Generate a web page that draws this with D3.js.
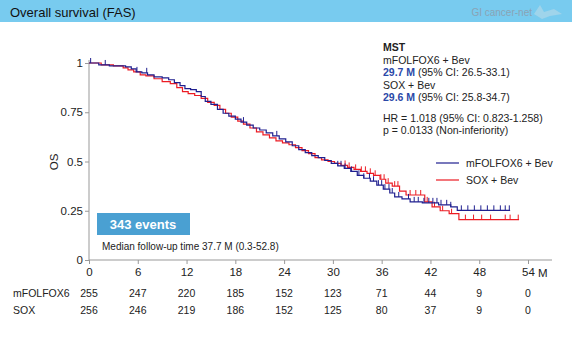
<!DOCTYPE html>
<html>
<head>
<meta charset="utf-8">
<script src="https://cdn.jsdelivr.net/npm/d3@7"></script>
<style>
  body { margin: 0; background: #fff; }
  svg { display: block; font-family: "Liberation Sans", Arial, sans-serif; }
</style>
</head>
<body>
<div class="chart"></div>
<script>
// data
const xTicks = [0, 6, 12, 18, 24, 30, 36, 42, 48, 54];
const yTicks = [0, 0.25, 0.5, 0.75, 1];
const riskFolfox = [255, 247, 220, 185, 152, 123, 71, 44, 9, 0];
const riskSox = [256, 246, 219, 186, 152, 125, 80, 37, 9, 0];

// step points [month, survival]
const folfoxSteps = [
  [0, 1], [1.2, 0.99], [2.5, 0.985], [4.5, 0.98], [5.2, 0.97], [5.8, 0.955], [6.5, 0.95],
  [7.2, 0.94], [8.0, 0.93], [9.0, 0.925], [9.8, 0.915], [10.5, 0.9], [11.2, 0.885],
  [11.8, 0.87], [12.5, 0.865], [13.2, 0.855], [13.8, 0.83], [14.3, 0.805], [15.0, 0.79],
  [15.8, 0.765], [16.5, 0.745], [17.2, 0.73], [18.0, 0.715], [18.7, 0.70], [19.4, 0.685],
  [20.2, 0.67], [21.0, 0.66], [21.8, 0.645], [22.6, 0.63], [23.4, 0.615], [24.2, 0.60],
  [25.0, 0.58], [25.8, 0.56], [26.6, 0.545], [27.4, 0.53], [28.2, 0.52], [29.0, 0.505],
  [29.8, 0.49], [30.6, 0.478], [31.4, 0.465], [32.2, 0.45], [33.0, 0.43], [33.8, 0.415],
  [34.6, 0.40], [35.4, 0.38], [36.2, 0.36], [37.0, 0.34], [37.6, 0.32], [38.5, 0.31],
  [39.5, 0.295], [41.0, 0.29], [43.0, 0.28], [44.5, 0.27], [45.3, 0.252], [51.8, 0.252]
];
const soxSteps = [
  [0, 1], [1.5, 0.99], [3.0, 0.985], [4.2, 0.975], [4.8, 0.965], [5.5, 0.955], [6.3, 0.94],
  [7.0, 0.935], [8.0, 0.92], [9.0, 0.905], [10.0, 0.895], [10.8, 0.875], [11.5, 0.855],
  [12.2, 0.845], [13.0, 0.835], [13.8, 0.82], [14.6, 0.80], [15.4, 0.785], [16.1, 0.765],
  [16.8, 0.745], [17.5, 0.725], [18.3, 0.705], [19.0, 0.69], [19.8, 0.67], [20.6, 0.65],
  [21.4, 0.635], [22.2, 0.62], [23.0, 0.605], [23.8, 0.595], [24.6, 0.585], [25.4, 0.57],
  [26.2, 0.555], [27.0, 0.54], [27.8, 0.52], [28.6, 0.508], [29.4, 0.50], [30.2, 0.49],
  [31.0, 0.48], [31.8, 0.47], [32.6, 0.46], [33.4, 0.45], [34.2, 0.44], [35.0, 0.43],
  [35.8, 0.41], [36.5, 0.39], [37.3, 0.375], [38.2, 0.35], [39.0, 0.33], [41.3, 0.295],
  [42.2, 0.27], [43.2, 0.25], [44.3, 0.235], [45.5, 0.205], [52.9, 0.205]
];
const folfoxCensor = [0.2, 2, 5.9, 7.1, 19, 23.1, 30.6, 31.0, 31.5, 32.3, 33.2, 33.8, 34.5,
  35.0, 35.6, 36.0, 36.4, 36.9, 37.3, 38.1, 39.3, 40.0, 40.5, 41.2, 41.8, 42.3, 42.8, 43.3,
  44.0, 44.5, 45.8, 46.6, 47.4, 48.2, 49.0, 49.8, 50.6, 51.2, 51.7];
const soxCensor = [31.5, 32.0, 32.8, 33.5, 34.0, 34.6, 35.2, 35.9, 36.3, 36.8, 37.6, 38.0,
  39.5, 40.2, 40.8, 41.6, 42.5, 43.5, 44.6, 46.3, 47.3, 48.3, 49.4, 51.2, 51.8, 52.8];

const blue = "#1f1f8f", red = "#ec1c24";

const svg = d3.select(".chart").append("svg")
  .attr("width", 572)
  .attr("height", 340);

// header
svg.append("rect").attr("x", 0).attr("y", 0).attr("width", 572).attr("height", 22).attr("fill", "#78cbef");
svg.append("text").attr("x", 10).attr("y", 17).attr("font-size", 13).attr("fill", "#111")
  .text("Overall survival (FAS)");
svg.append("text").attr("x", 532).attr("y", 16).attr("text-anchor", "end").attr("font-size", 10)
  .attr("fill", "#8aa3b5").text("GI cancer-net");
// little crane-ish logo shape
svg.append("path")
  .attr("d", "M534,14 L540,5 L544,12 L554,9 L562,14 L550,16 L542,19 Z")
  .attr("fill", "#a9d6ea").attr("opacity", 0.8);

const x = d3.scaleLinear().domain([0, 54]).range([89, 528]);
const y = d3.scaleLinear().domain([0, 1]).range([260, 63]);

// axes
const gx = svg.append("g").attr("transform", "translate(0,260)")
  .call(d3.axisBottom(x).tickValues(xTicks).tickSize(4).tickFormat(d3.format("d")));
const gy = svg.append("g").attr("transform", "translate(89,0)")
  .call(d3.axisLeft(y).tickValues(yTicks).tickSize(4).tickFormat(d => d === 1 ? "1" : d === 0 ? "0" : d));
gx.select(".domain").attr("d", "M89,0H552");
[gx, gy].forEach(g => {
  g.selectAll(".domain").attr("stroke", "#999");
  g.selectAll(".tick line").attr("stroke", "#999");
  g.selectAll("text").attr("font-size", 11.5).attr("fill", "#222").attr("font-family", "Liberation Sans, Arial, sans-serif");
});
gx.selectAll("text").attr("dy", "0.95em").attr("y", 5);
gy.select(".domain").attr("d", "M0,260V60");
gy.selectAll("text").attr("x", -6);
svg.append("text").attr("x", 538).attr("y", 277).attr("font-size", 11.5).attr("fill", "#222").text("M");
svg.append("text").attr("transform", "translate(58,162) rotate(-90)").attr("text-anchor", "middle")
  .attr("font-size", 11.5).attr("fill", "#222").text("OS");

// curves
const line = d3.line().x(d => x(d[0])).y(d => y(d[1])).curve(d3.curveStepAfter);
function survAt(steps, t) {
  let s = steps[0][1];
  for (const p of steps) { if (p[0] <= t) s = p[1]; }
  return s;
}
function drawArm(steps, censor, color) {
  svg.append("path").datum(steps).attr("d", line)
    .attr("fill", "none").attr("stroke", color).attr("stroke-width", 1.2);
  svg.selectAll(null).data(censor).enter().append("line")
    .attr("x1", d => x(d)).attr("x2", d => x(d))
    .attr("y1", d => y(survAt(steps, d)))
    .attr("y2", d => y(survAt(steps, d)) - 5)
    .attr("stroke", color).attr("stroke-width", 1);
}
drawArm(soxSteps, soxCensor, red);
drawArm(folfoxSteps, folfoxCensor, blue);

// legend
const legend = [["mFOLFOX6 + Bev", blue], ["SOX + Bev", red]];
legend.forEach((d, i) => {
  const ly = 163 + i * 17;
  svg.append("line").attr("x1", 436).attr("x2", 459).attr("y1", ly).attr("y2", ly)
    .attr("stroke", d[1]).attr("stroke-width", 1.2);
  svg.append("text").attr("x", 466).attr("y", ly + 4).attr("font-size", 10.5).attr("fill", "#222").text(d[0]);
});

// annotation block
const ann = svg.append("g").attr("font-size", 10.5).attr("fill", "#222");
ann.append("text").attr("x", 383).attr("y", 51).attr("font-weight", "bold").text("MST");
ann.append("text").attr("x", 383).attr("y", 64).text("mFOLFOX6 + Bev");
const t1 = ann.append("text").attr("x", 383).attr("y", 76);
t1.append("tspan").attr("font-weight", "bold").attr("fill", "#2a48a8").text("29.7 M");
t1.append("tspan").text(" (95% CI: 26.5-33.1)");
ann.append("text").attr("x", 383).attr("y", 89).text("SOX + Bev");
const t2 = ann.append("text").attr("x", 383).attr("y", 101);
t2.append("tspan").attr("font-weight", "bold").attr("fill", "#2a48a8").text("29.6 M");
t2.append("tspan").text(" (95% CI: 25.8-34.7)");
ann.append("text").attr("x", 383).attr("y", 122).text("HR = 1.018 (95% CI: 0.823-1.258)");
ann.append("text").attr("x", 383).attr("y", 134).text("p = 0.0133 (Non-inferiority)");

// events box
svg.append("rect").attr("x", 97).attr("y", 213).attr("width", 93).attr("height", 22).attr("fill", "#4aa0d2");
svg.append("text").attr("x", 143).attr("y", 229).attr("text-anchor", "middle").attr("font-size", 13)
  .attr("font-weight", "bold").attr("fill", "#fff").text("343 events");
svg.append("text").attr("x", 102).attr("y", 250).attr("font-size", 10).attr("fill", "#222")
  .text("Median follow-up time 37.7 M (0.3-52.8)");

// numbers at risk
const rows = [["mFOLFOX6", riskFolfox, 297], ["SOX", riskSox, 314]];
rows.forEach(r => {
  svg.append("text").attr("x", 13).attr("y", r[2]).attr("font-size", 10.5).attr("fill", "#222").text(r[0]);
  svg.selectAll(null).data(r[1]).enter().append("text")
    .attr("x", (d, i) => x(xTicks[i])).attr("y", r[2])
    .attr("text-anchor", "middle").attr("font-size", 10.5).attr("fill", "#222")
    .text(d => d);
});
</script>
</body>
</html>
